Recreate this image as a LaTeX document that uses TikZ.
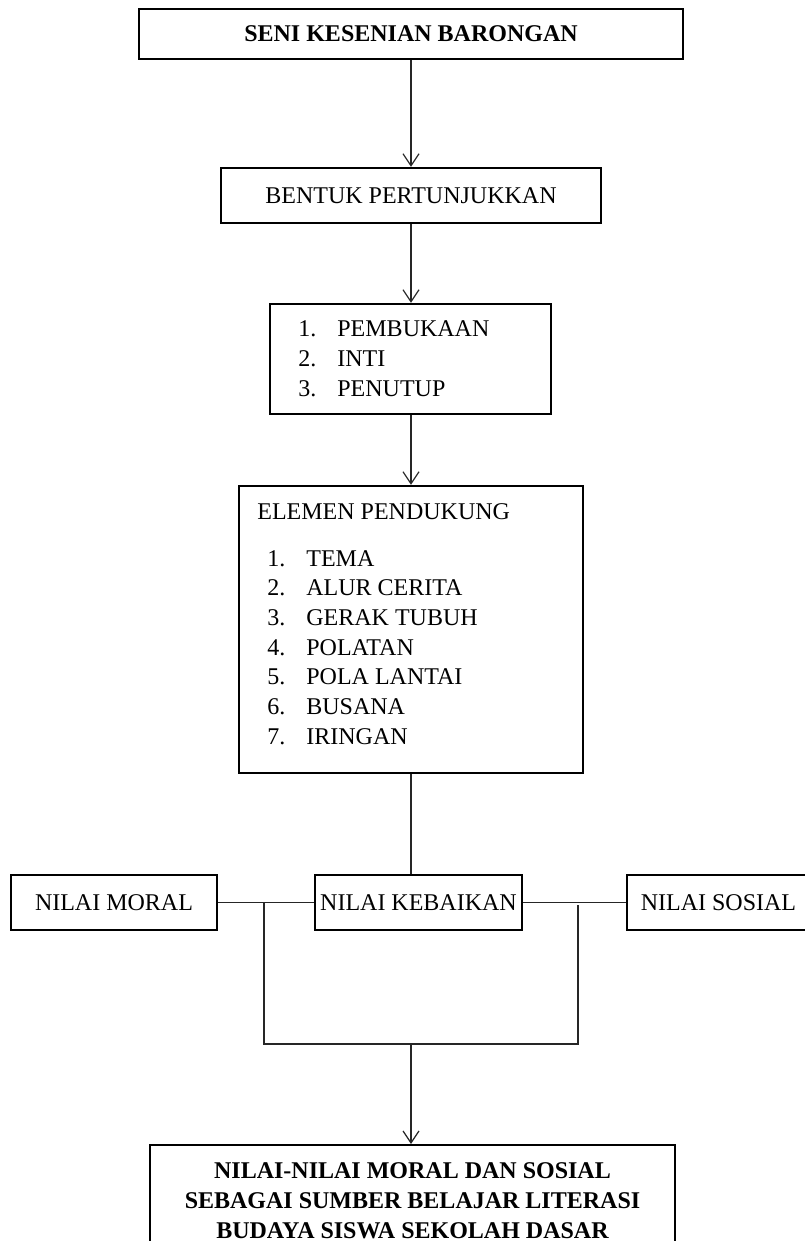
\documentclass[tikz,border=0pt]{standalone}
\usepackage{fontspec}
\setmainfont{Liberation Serif}
\usetikzlibrary{arrows.meta}
\begin{document}
\begin{tikzpicture}[x=0.5pt,y=-0.5pt,
  every node/.style={font=\fontsize{12}{14.85}\selectfont},
  box/.style={draw, line width=1.2pt, inner sep=0pt, rectangle},
  conn/.style={line width=0.6pt, draw=black!85},
  arr/.style={conn, -{Straight Barb[length=6pt,width=8pt,line width=0.6pt]}},
  lbl/.style={inner sep=0pt, anchor=base west}]
\useasboundingbox (0,0) rectangle (804,1241);
% boxes
\node[box, minimum width=272pt, minimum height=25pt, font=\fontsize{12}{14.85}\selectfont\bfseries] (top) at (411,34) {SENI KESENIAN BARONGAN};
\node[box, minimum width=190pt, minimum height=27.5pt] (bentuk) at (411,195.5) {BENTUK PERTUNJUKKAN};
\node[box, minimum width=140.5pt, minimum height=55pt] (tahap) at (410.5,359) {};
\node[lbl, font=\fontsize{12}{15}\selectfont] (tahaplist) at (298,336) {\begin{tabular}[t]{@{}p{19.5pt}@{}l@{}}1.&PEMBUKAAN\\2.&INTI\\3.&PENUTUP\end{tabular}};
\node[box, minimum width=172pt, minimum height=143.5pt] (elemen) at (411,629.5) {};
\node[lbl] (elemenhead) at (257,519) {ELEMEN PENDUKUNG};
\node[lbl] (elemenlist) at (267,566) {\begin{tabular}[t]{@{}p{19.5pt}@{}l@{}}1.&TEMA\\2.&ALUR CERITA\\3.&GERAK TUBUH\\4.&POLATAN\\5.&POLA LANTAI\\6.&BUSANA\\7.&IRINGAN\end{tabular}};
\node[box, minimum width=103pt, minimum height=27.5pt] (moral) at (114,902.5) {NILAI MORAL};
\node[box, minimum width=103.5pt, minimum height=27.5pt] (keb) at (418.5,902.5) {NILAI KEBAIKAN};
\node[box, minimum width=91.5pt, minimum height=27.5pt] (sosial) at (718.5,902.5) {NILAI SOSIAL};
\node[box, minimum width=262.5pt, minimum height=80pt, anchor=north] (tujuan) at (412.5,1144) {};
\node[inner sep=0pt, anchor=base, font=\fontsize{12}{15}\selectfont\bfseries] (tujuantext) at (412.5,1178) {\begin{tabular}[t]{@{}c@{}}NILAI-NILAI MORAL DAN SOSIAL\\SEBAGAI SUMBER BELAJAR LITERASI\\BUDAYA SISWA SEKOLAH DASAR\end{tabular}};
% connectors
\draw[arr] (top.south) -- (bentuk.north);
\draw[arr] (bentuk.south) -- (bentuk.south |- tahap.north);
\draw[arr] (tahap.south -| bentuk.south) -- (bentuk.south |- elemen.north);
\draw[conn] (elemen.south) -- (elemen.south |- keb.north);
\draw[conn] (moral.east) -- (keb.west);
\draw[conn] (keb.east) -- (sosial.west);
\coordinate (bl) at (264,902);
\coordinate (br) at (578,905);
\coordinate (bl2) at (264,1044);
\coordinate (br2) at (578,1044);
\coordinate (bm) at (411,1044);
\draw[conn] (bl) -- (bl2) -- (br2) -- (br);
\draw[arr] (bm) -- (bm |- tujuan.north);
\end{tikzpicture}
\end{document}
